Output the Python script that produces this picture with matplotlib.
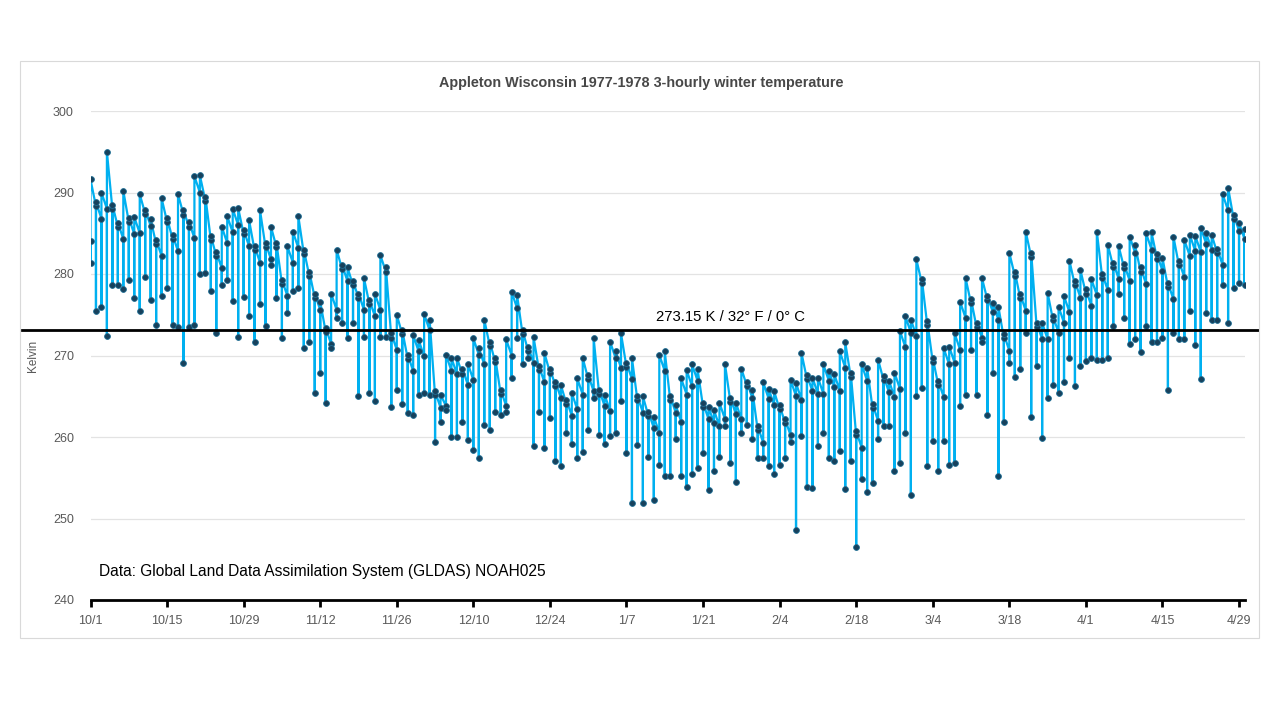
import matplotlib
matplotlib.use('Agg')
import matplotlib.pyplot as plt
from matplotlib.patches import Rectangle
from matplotlib import font_manager

# daily readings (Kelvin), day 0 = 10/1/1977, columns drawn at one x per day
day_open = [
    284.0, 288.3, 286.8, 288.0, 288.0, 285.8, 284.3, 286.4, 284.9, 285.0,
    287.4, 285.9, 283.7, 282.2, 286.4, 284.3, 282.8, 287.3, 285.8, 284.4,
    290.0, 289.0, 284.2, 282.2, 280.7, 283.8, 285.1, 286.0, 284.9, 283.4,
    282.9, 281.4, 283.3, 281.8, 283.3, 278.8, 277.3, 281.4, 283.2, 282.5,
    279.8, 277.1, 275.6, 272.9, 271.4, 275.6, 280.6, 279.1, 278.6, 277.1,
    275.6, 276.3, 274.8, 275.6, 280.3, 272.2, 270.7, 272.6, 269.6, 268.1,
    270.5, 269.9, 273.1, 265.1, 263.6, 263.8, 268.1, 267.7, 267.7, 266.4,
    267.0, 270.1, 268.9, 271.2, 269.2, 265.3, 263.8, 270.0, 275.8, 272.6,
    270.6, 269.1, 268.2, 266.7, 267.9, 266.3, 264.8, 264.1, 262.6, 263.4,
    265.2, 267.1, 265.6, 265.3, 263.8, 263.2, 269.7, 268.5, 268.6, 267.1,
    264.5, 263.0, 262.6, 261.1, 260.5, 268.1, 264.5, 263.0, 261.9, 265.2,
    266.2, 266.9, 263.7, 262.2, 261.7, 261.3, 262.2, 264.3, 262.8, 262.2,
    266.3, 264.8, 260.8, 259.3, 264.7, 263.9, 263.4, 261.7, 260.2, 265.0,
    264.6, 267.1, 265.6, 265.3, 265.3, 266.9, 266.1, 265.7, 268.5, 267.4,
    260.2, 258.7, 266.9, 263.5, 262.0, 267.0, 265.5, 264.9, 265.9, 271.0,
    272.8, 272.4, 278.9, 273.7, 269.2, 266.4, 264.9, 268.9, 269.1, 270.7,
    274.6, 276.4, 273.5, 272.2, 276.8, 275.3, 274.4, 272.1, 270.6, 279.8,
    277.0, 275.5, 282.1, 273.5, 272.0, 272.0, 274.3, 272.8, 274.0, 275.3,
    278.6, 277.1, 277.6, 276.1, 277.4, 279.5, 278.0, 280.9, 279.4, 280.7,
    279.2, 282.6, 280.3, 278.8, 283.0, 281.9, 280.4, 278.4, 276.9, 281.1,
    279.6, 282.2, 282.8, 282.7, 283.7, 283.0, 282.6, 281.1, 287.8, 286.8,
    285.3, 284.3,
]
day_low = [
    281.4, 275.4, 276.0, 272.4, 278.6, 278.6, 278.1, 279.3, 277.0, 275.5,
    279.6, 276.8, 273.8, 277.3, 278.3, 273.8, 273.5, 269.1, 273.5, 273.8,
    280.0, 280.1, 277.9, 272.8, 278.7, 279.3, 276.7, 272.3, 277.2, 274.8,
    271.7, 276.3, 273.6, 281.1, 277.0, 272.1, 275.2, 277.9, 278.3, 270.9,
    271.7, 265.4, 267.8, 264.2, 270.9, 274.6, 274.0, 272.1, 274.0, 265.0,
    272.3, 265.4, 264.4, 272.3, 272.3, 263.7, 265.8, 264.1, 262.9, 262.7,
    265.2, 265.4, 265.2, 259.4, 261.9, 263.3, 260.0, 260.0, 261.9, 259.6,
    258.4, 257.4, 261.5, 260.9, 263.1, 262.7, 263.1, 267.2, 272.1, 268.9,
    269.7, 258.9, 263.1, 258.6, 262.3, 257.0, 256.4, 260.5, 259.2, 257.4,
    258.2, 260.9, 264.8, 260.3, 259.2, 260.1, 260.5, 264.4, 258.0, 251.9,
    259.0, 251.9, 257.6, 252.3, 256.6, 255.2, 255.2, 259.7, 255.2, 253.9,
    255.4, 256.2, 258.0, 253.5, 255.8, 257.6, 261.3, 256.8, 254.5, 260.5,
    261.5, 259.7, 257.4, 257.4, 256.4, 255.4, 256.6, 257.4, 259.4, 248.6,
    260.1, 253.9, 253.8, 258.9, 260.5, 257.4, 257.0, 258.3, 253.6, 257.0,
    246.5, 254.8, 253.2, 254.4, 259.7, 261.3, 261.3, 255.8, 256.8, 260.5,
    252.9, 265.0, 266.0, 256.4, 259.5, 255.8, 259.5, 256.6, 256.8, 263.8,
    265.2, 270.7, 265.2, 271.7, 262.7, 267.9, 255.2, 261.9, 269.1, 267.4,
    268.3, 272.8, 262.5, 268.7, 259.9, 264.8, 266.4, 265.4, 266.8, 269.7,
    266.2, 268.7, 269.3, 269.7, 269.5, 269.5, 269.7, 273.6, 277.5, 274.6,
    271.4, 272.0, 270.4, 273.6, 271.6, 271.6, 272.2, 265.8, 272.8, 272.0,
    272.0, 275.4, 271.3, 267.1, 275.2, 274.4, 274.4, 278.7, 274.0, 278.3,
    278.9, 278.7,
]
day_high = [
    291.6, 288.8, 290.0, 295.0, 288.5, 286.3, 290.2, 286.9, 287.0, 289.8,
    287.9, 286.7, 284.2, 289.3, 286.9, 284.8, 289.8, 287.8, 286.4, 292.0,
    292.1, 289.5, 284.7, 282.7, 285.8, 287.1, 288.0, 288.1, 285.4, 286.6,
    283.4, 287.8, 283.8, 285.8, 283.8, 279.3, 283.4, 285.2, 287.1, 283.0,
    280.3, 277.6, 276.6, 273.4, 277.6, 283.0, 281.1, 280.8, 279.1, 277.6,
    279.5, 276.8, 277.6, 282.3, 280.9, 272.7, 275.0, 273.1, 270.1, 272.5,
    271.9, 275.1, 274.4, 265.6, 265.2, 270.1, 269.7, 269.7, 268.4, 269.0,
    272.1, 270.9, 274.4, 271.7, 269.7, 265.8, 272.0, 277.8, 277.4, 273.1,
    271.1, 272.3, 268.7, 270.3, 268.4, 266.8, 266.4, 264.6, 265.4, 267.2,
    269.7, 267.6, 272.1, 265.8, 265.2, 271.7, 270.5, 272.7, 269.1, 269.7,
    265.0, 265.0, 263.1, 262.5, 270.1, 270.5, 265.0, 263.9, 267.2, 268.2,
    268.9, 268.3, 264.2, 263.7, 263.3, 264.2, 269.0, 264.8, 264.2, 268.4,
    266.8, 265.8, 261.3, 266.7, 265.9, 265.6, 263.9, 262.2, 267.0, 266.6,
    270.3, 267.6, 267.3, 267.3, 268.9, 268.1, 267.7, 270.5, 271.6, 267.9,
    260.7, 268.9, 268.5, 264.0, 269.5, 267.5, 266.9, 267.9, 273.0, 274.8,
    274.4, 281.8, 279.4, 274.2, 269.7, 266.9, 270.9, 271.1, 272.7, 276.6,
    279.5, 276.9, 274.0, 279.5, 277.3, 276.4, 276.0, 272.6, 282.6, 280.3,
    277.5, 285.2, 282.6, 274.0, 274.0, 277.7, 274.8, 276.0, 277.3, 281.6,
    279.1, 280.5, 278.1, 279.4, 285.2, 280.0, 283.6, 281.4, 283.4, 281.2,
    284.6, 283.5, 280.8, 285.0, 285.1, 282.4, 282.0, 278.9, 284.6, 281.6,
    284.2, 284.8, 284.7, 285.7, 285.0, 284.8, 283.1, 289.8, 290.6, 287.3,
    286.3, 285.5,
]

tick_days = [0, 14, 28, 42, 56, 70, 84, 98, 112, 126, 140, 154, 168, 182, 196, 210]
tick_labels = ['10/1', '10/15', '10/29', '11/12', '11/26', '12/10', '12/24', '1/7',
               '1/21', '2/4', '2/18', '3/4', '3/18', '4/1', '4/15', '4/29']
y_ticks = [240, 250, 260, 270, 280, 290, 300]
freezing_k = 273.15

title = 'Appleton Wisconsin 1977-1978 3-hourly winter temperature'
freeze_label = '273.15 K / 32\u00b0 F / 0\u00b0 C'
source_note = 'Data: Global Land Data Assimilation System (GLDAS) NOAH025'

names = {f.name for f in font_manager.fontManager.ttflist}
narrow = 'Liberation Sans Narrow' if 'Liberation Sans Narrow' in names else 'Liberation Sans'
plt.rcParams['font.family'] = ['Liberation Sans', 'DejaVu Sans']

# each day is one x position holding its readings in time order
xs, ys = [], []
for d in range(len(day_high)):
    xs += [d, d, d]
    ys += [day_open[d], day_low[d], day_high[d]]

fig = plt.figure(figsize=(12.8, 7.2), dpi=100)
fig.patches.append(Rectangle((20 / 1280, 1 - 638 / 720), 1239 / 1280, 577 / 720,
                             transform=fig.transFigure, fill=False,
                             edgecolor='#d9d9d9', linewidth=0.8))

ax = fig.add_axes([90.5 / 1280, 1 - 600 / 720, 1154 / 1280, 489 / 720])
ax.plot(xs, ys, color='#00b0f0', linewidth=1.6, marker='o', markersize=4.2,
        markerfacecolor='#17415c', markeredgecolor='#1f6f95', markeredgewidth=0.6,
        zorder=3)

ax.set_xlim(0, 211)
ax.set_ylim(240, 300)
ax.set_yticks(y_ticks)
ax.set_xticks(tick_days)
ax.set_xticklabels(tick_labels)
ax.grid(axis='y', color='#e3e3e3', linewidth=0.9)
ax.set_axisbelow(True)
for s in ['top', 'right', 'left']:
    ax.spines[s].set_visible(False)
ax.spines['bottom'].set_color('black')
ax.spines['bottom'].set_linewidth(2.0)
ax.spines['bottom'].set_zorder(4)
ax.tick_params(axis='y', length=0, pad=12, labelsize=9, labelcolor='#595959')
ax.tick_params(axis='x', length=5, width=2, color='black', pad=6,
               labelsize=9, labelcolor='#595959')
ax.set_ylabel('Kelvin', fontsize=8.5, color='#595959', labelpad=10)

ax.axhline(freezing_k, xmin=(22 - 90.5) / 1154, xmax=(1258 - 90.5) / 1154,
           color='black', linewidth=2.0, clip_on=False, zorder=5)
ax.text(117, freezing_k + 0.7, freeze_label, ha='center', va='bottom',
        fontsize=10.7, color='black')
ax.text(1.5, 242.6, source_note, ha='left', va='bottom', fontsize=11.2, color='black')

fig.text(641 / 1280, 1 - 83 / 720, title, ha='center', va='center',
         fontsize=10.4, fontweight='bold', color='#484848', family=[narrow, 'DejaVu Sans'])

fig.savefig('out.png', dpi=100)
